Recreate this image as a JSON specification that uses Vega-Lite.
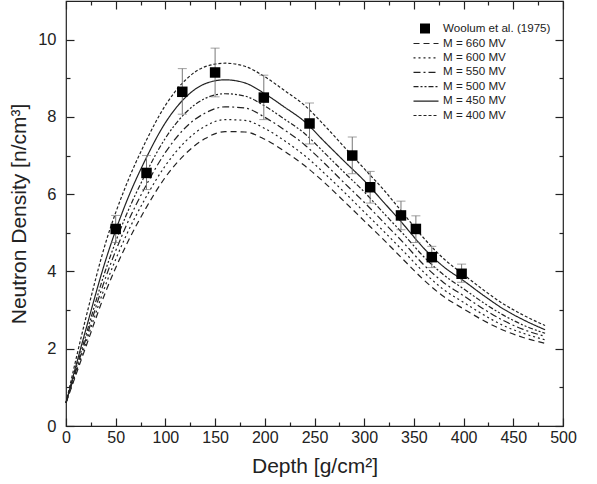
{
"$schema": "https://vega.github.io/schema/vega-lite/v6.json",
"width": 497, "height": 425,
"autosize": {"type": "none"},
"padding": {"left": 66, "top": 1, "right": 34, "bottom": 58},
"background": "white",
"config": {
 "view": {"stroke": "#222", "strokeWidth": 1.2},
 "font": "Liberation Sans",
 "axis": {"grid": false, "domain": false, "labelFont": "Liberation Sans", "titleFont": "Liberation Sans", "labelColor": "#222", "titleColor": "#222", "tickColor": "#222", "tickWidth": 1.2, "titleFontWeight": "normal", "labelFlush": false, "labelOverlap": false},
 "legend": {"labelFont": "Liberation Sans", "labelColor": "#222", "padding": 0}
},
"datasets": {
 "curves": [
  {"M":"M = 400 MV","d":0,"v":0.6},{"M":"M = 400 MV","d":20,"v":2.8},{"M":"M = 400 MV","d":40,"v":4.75},{"M":"M = 400 MV","d":60,"v":6.2},{"M":"M = 400 MV","d":80,"v":7.35},{"M":"M = 400 MV","d":100,"v":8.3},{"M":"M = 400 MV","d":120,"v":8.95},{"M":"M = 400 MV","d":140,"v":9.3},{"M":"M = 400 MV","d":160,"v":9.39},{"M":"M = 400 MV","d":180,"v":9.31},{"M":"M = 400 MV","d":200,"v":9.04},{"M":"M = 400 MV","d":220,"v":8.68},{"M":"M = 400 MV","d":240,"v":8.3},{"M":"M = 400 MV","d":260,"v":7.78},{"M":"M = 400 MV","d":280,"v":7.22},{"M":"M = 400 MV","d":300,"v":6.66},{"M":"M = 400 MV","d":320,"v":6.1},{"M":"M = 400 MV","d":340,"v":5.48},{"M":"M = 400 MV","d":360,"v":4.86},{"M":"M = 400 MV","d":380,"v":4.33},{"M":"M = 400 MV","d":400,"v":3.92},{"M":"M = 400 MV","d":420,"v":3.52},{"M":"M = 400 MV","d":440,"v":3.16},{"M":"M = 400 MV","d":460,"v":2.87},{"M":"M = 400 MV","d":482,"v":2.6},
  {"M":"M = 450 MV","d":0,"v":0.6},{"M":"M = 450 MV","d":20,"v":2.5},{"M":"M = 450 MV","d":40,"v":4.3},{"M":"M = 450 MV","d":60,"v":5.75},{"M":"M = 450 MV","d":80,"v":6.9},{"M":"M = 450 MV","d":100,"v":7.85},{"M":"M = 450 MV","d":120,"v":8.5},{"M":"M = 450 MV","d":140,"v":8.86},{"M":"M = 450 MV","d":160,"v":8.96},{"M":"M = 450 MV","d":180,"v":8.88},{"M":"M = 450 MV","d":200,"v":8.6},{"M":"M = 450 MV","d":220,"v":8.25},{"M":"M = 450 MV","d":240,"v":7.88},{"M":"M = 450 MV","d":260,"v":7.36},{"M":"M = 450 MV","d":280,"v":6.85},{"M":"M = 450 MV","d":300,"v":6.35},{"M":"M = 450 MV","d":320,"v":5.78},{"M":"M = 450 MV","d":340,"v":5.2},{"M":"M = 450 MV","d":360,"v":4.6},{"M":"M = 450 MV","d":380,"v":4.12},{"M":"M = 450 MV","d":400,"v":3.76},{"M":"M = 450 MV","d":420,"v":3.38},{"M":"M = 450 MV","d":440,"v":3.03},{"M":"M = 450 MV","d":460,"v":2.75},{"M":"M = 450 MV","d":482,"v":2.49},
  {"M":"M = 500 MV","d":0,"v":0.6},{"M":"M = 500 MV","d":20,"v":2.35},{"M":"M = 500 MV","d":40,"v":4.05},{"M":"M = 500 MV","d":60,"v":5.42},{"M":"M = 500 MV","d":80,"v":6.52},{"M":"M = 500 MV","d":100,"v":7.45},{"M":"M = 500 MV","d":120,"v":8.1},{"M":"M = 500 MV","d":140,"v":8.48},{"M":"M = 500 MV","d":160,"v":8.6},{"M":"M = 500 MV","d":180,"v":8.54},{"M":"M = 500 MV","d":200,"v":8.28},{"M":"M = 500 MV","d":220,"v":7.94},{"M":"M = 500 MV","d":240,"v":7.57},{"M":"M = 500 MV","d":260,"v":7.07},{"M":"M = 500 MV","d":280,"v":6.56},{"M":"M = 500 MV","d":300,"v":6.06},{"M":"M = 500 MV","d":320,"v":5.5},{"M":"M = 500 MV","d":340,"v":4.95},{"M":"M = 500 MV","d":360,"v":4.38},{"M":"M = 500 MV","d":380,"v":3.91},{"M":"M = 500 MV","d":400,"v":3.55},{"M":"M = 500 MV","d":420,"v":3.19},{"M":"M = 500 MV","d":440,"v":2.87},{"M":"M = 500 MV","d":460,"v":2.61},{"M":"M = 500 MV","d":482,"v":2.4},
  {"M":"M = 550 MV","d":0,"v":0.6},{"M":"M = 550 MV","d":20,"v":2.25},{"M":"M = 550 MV","d":40,"v":3.85},{"M":"M = 550 MV","d":60,"v":5.15},{"M":"M = 550 MV","d":80,"v":6.2},{"M":"M = 550 MV","d":100,"v":7.08},{"M":"M = 550 MV","d":120,"v":7.72},{"M":"M = 550 MV","d":140,"v":8.1},{"M":"M = 550 MV","d":160,"v":8.26},{"M":"M = 550 MV","d":180,"v":8.23},{"M":"M = 550 MV","d":200,"v":7.99},{"M":"M = 550 MV","d":220,"v":7.66},{"M":"M = 550 MV","d":240,"v":7.28},{"M":"M = 550 MV","d":260,"v":6.8},{"M":"M = 550 MV","d":280,"v":6.29},{"M":"M = 550 MV","d":300,"v":5.79},{"M":"M = 550 MV","d":320,"v":5.26},{"M":"M = 550 MV","d":340,"v":4.73},{"M":"M = 550 MV","d":360,"v":4.17},{"M":"M = 550 MV","d":380,"v":3.71},{"M":"M = 550 MV","d":400,"v":3.37},{"M":"M = 550 MV","d":420,"v":3.03},{"M":"M = 550 MV","d":440,"v":2.73},{"M":"M = 550 MV","d":460,"v":2.5},{"M":"M = 550 MV","d":482,"v":2.32},
  {"M":"M = 600 MV","d":0,"v":0.6},{"M":"M = 600 MV","d":20,"v":2.15},{"M":"M = 600 MV","d":40,"v":3.66},{"M":"M = 600 MV","d":60,"v":4.9},{"M":"M = 600 MV","d":80,"v":5.9},{"M":"M = 600 MV","d":100,"v":6.74},{"M":"M = 600 MV","d":120,"v":7.36},{"M":"M = 600 MV","d":140,"v":7.76},{"M":"M = 600 MV","d":160,"v":7.93},{"M":"M = 600 MV","d":180,"v":7.91},{"M":"M = 600 MV","d":200,"v":7.7},{"M":"M = 600 MV","d":220,"v":7.38},{"M":"M = 600 MV","d":240,"v":7.0},{"M":"M = 600 MV","d":260,"v":6.54},{"M":"M = 600 MV","d":280,"v":6.05},{"M":"M = 600 MV","d":300,"v":5.54},{"M":"M = 600 MV","d":320,"v":5.03},{"M":"M = 600 MV","d":340,"v":4.51},{"M":"M = 600 MV","d":360,"v":3.98},{"M":"M = 600 MV","d":380,"v":3.53},{"M":"M = 600 MV","d":400,"v":3.2},{"M":"M = 600 MV","d":420,"v":2.88},{"M":"M = 600 MV","d":440,"v":2.6},{"M":"M = 600 MV","d":460,"v":2.4},{"M":"M = 600 MV","d":482,"v":2.23},
  {"M":"M = 660 MV","d":0,"v":0.6},{"M":"M = 660 MV","d":20,"v":2.05},{"M":"M = 660 MV","d":40,"v":3.48},{"M":"M = 660 MV","d":60,"v":4.65},{"M":"M = 660 MV","d":80,"v":5.62},{"M":"M = 660 MV","d":100,"v":6.44},{"M":"M = 660 MV","d":120,"v":7.04},{"M":"M = 660 MV","d":140,"v":7.44},{"M":"M = 660 MV","d":160,"v":7.62},{"M":"M = 660 MV","d":180,"v":7.61},{"M":"M = 660 MV","d":200,"v":7.42},{"M":"M = 660 MV","d":220,"v":7.11},{"M":"M = 660 MV","d":240,"v":6.74},{"M":"M = 660 MV","d":260,"v":6.3},{"M":"M = 660 MV","d":280,"v":5.81},{"M":"M = 660 MV","d":300,"v":5.31},{"M":"M = 660 MV","d":320,"v":4.81},{"M":"M = 660 MV","d":340,"v":4.29},{"M":"M = 660 MV","d":360,"v":3.78},{"M":"M = 660 MV","d":380,"v":3.35},{"M":"M = 660 MV","d":400,"v":3.03},{"M":"M = 660 MV","d":420,"v":2.73},{"M":"M = 660 MV","d":440,"v":2.48},{"M":"M = 660 MV","d":460,"v":2.29},{"M":"M = 660 MV","d":482,"v":2.14}
 ],
 "obs": [
  {"src":"Woolum et al. (1975)","d":50,"n":5.1,"lo":4.75,"hi":5.45},
  {"src":"Woolum et al. (1975)","d":81,"n":6.55,"lo":6.12,"hi":7.0},
  {"src":"Woolum et al. (1975)","d":117,"n":8.65,"lo":8.07,"hi":9.25},
  {"src":"Woolum et al. (1975)","d":150,"n":9.15,"lo":8.52,"hi":9.78},
  {"src":"Woolum et al. (1975)","d":199,"n":8.5,"lo":7.93,"hi":9.08},
  {"src":"Woolum et al. (1975)","d":245,"n":7.83,"lo":7.3,"hi":8.36},
  {"src":"Woolum et al. (1975)","d":288,"n":7.0,"lo":6.53,"hi":7.48},
  {"src":"Woolum et al. (1975)","d":306,"n":6.18,"lo":5.77,"hi":6.59},
  {"src":"Woolum et al. (1975)","d":337,"n":5.45,"lo":5.08,"hi":5.82},
  {"src":"Woolum et al. (1975)","d":352,"n":5.1,"lo":4.75,"hi":5.44},
  {"src":"Woolum et al. (1975)","d":368,"n":4.37,"lo":4.1,"hi":4.65},
  {"src":"Woolum et al. (1975)","d":398,"n":3.94,"lo":3.72,"hi":4.19}
 ]
},
"resolve": {"axis": {"x": "independent", "y": "independent"}},
"layer": [
 {
  "data": {"name": "curves"},
  "mark": {"type": "line", "interpolate": "monotone", "strokeWidth": 1.2, "color": "#222"},
  "encoding": {
   "x": {"field": "d", "type": "quantitative", "scale": {"domain": [0, 500], "nice": false, "zero": false},
    "axis": {"orient": "bottom", "values": [0,50,100,150,200,250,300,350,400,450,500], "ticks": false, "labelFontSize": 16, "labelPadding": 3, "title": "Depth [g/cm²]", "titleFontSize": 21, "titlePadding": 10}},
   "y": {"field": "v", "type": "quantitative", "scale": {"domain": [0, 11], "nice": false, "zero": false},
    "axis": {"orient": "left", "values": [0,2,4,6,8,10], "ticks": false, "labelFontSize": 16.5, "labelPadding": 10, "title": "Neutron Density [n/cm³]", "titleFontSize": 21, "titlePadding": 8}},
   "strokeDash": {"field": "M", "type": "nominal",
    "scale": {"domain": ["M = 660 MV","M = 600 MV","M = 550 MV","M = 500 MV","M = 450 MV","M = 400 MV"],
              "range": [[6,4],[2,3],[7,3,2,3],[5,2,2,2,2,2],[1,0],[3,2]]},
    "legend": {"orient": "none", "legendX": 354, "legendY": 36.5, "title": null, "symbolType": "M-2.5,0H2.5", "symbolSize": 100, "symbolStrokeColor": "#222", "symbolStrokeWidth": 1.2, "labelFontSize": 11.6, "labelOffset": 11, "rowPadding": 2.4}}
  }
 },
 {
  "data": {"name": "obs"},
  "mark": {"type": "rule", "color": "#777", "strokeWidth": 1},
  "encoding": {
   "x": {"field": "d", "type": "quantitative",
    "axis": {"orient": "bottom", "values": [0,25,50,75,100,125,150,175,200,225,250,275,300,325,350,375,400,425,450,475,500], "labels": false, "title": null, "tickSize": {"condition": {"test": "datum.value % 50 === 0", "value": -8}, "value": -4}}},
   "y": {"field": "lo", "type": "quantitative",
    "axis": {"orient": "left", "values": [0,1,2,3,4,5,6,7,8,9,10], "labels": false, "title": null, "tickSize": {"condition": {"test": "datum.value % 2 === 0", "value": -8}, "value": -4}}},
   "y2": {"field": "hi"}
  }
 },
 {
  "data": {"name": "obs"},
  "mark": {"type": "tick", "orient": "horizontal", "color": "#777", "size": 9, "thickness": 1},
  "encoding": {
   "x": {"field": "d", "type": "quantitative",
    "axis": {"orient": "top", "values": [0,25,50,75,100,125,150,175,200,225,250,275,300,325,350,375,400,425,450,475,500], "labels": false, "title": null, "tickSize": {"condition": {"test": "datum.value % 50 === 0", "value": -8}, "value": -4}}},
   "y": {"field": "hi", "type": "quantitative",
    "axis": {"orient": "right", "values": [0,1,2,3,4,5,6,7,8,9,10], "labels": false, "title": null, "tickSize": {"condition": {"test": "datum.value % 2 === 0", "value": -8}, "value": -4}}}
  }
 },
 {
  "data": {"name": "obs"},
  "mark": {"type": "tick", "orient": "horizontal", "color": "#777", "size": 9, "thickness": 1},
  "encoding": {
   "x": {"field": "d", "type": "quantitative", "axis": null},
   "y": {"field": "lo", "type": "quantitative", "axis": null}
  }
 },
 {
  "data": {"name": "obs"},
  "mark": {"type": "point", "shape": "square", "filled": true, "color": "black", "size": 110, "opacity": 1},
  "encoding": {
   "x": {"field": "d", "type": "quantitative", "axis": null},
   "y": {"field": "n", "type": "quantitative", "axis": null},
   "shape": {"field": "src", "type": "nominal", "scale": {"range": ["square"]},
    "legend": {"orient": "none", "legendX": 353, "legendY": 21.5, "title": null, "symbolSize": 100, "symbolFillColor": "black", "symbolStrokeColor": "black", "symbolOpacity": 1, "labelFontSize": 11.6, "labelOffset": 12}}
  }
 }
]
}
